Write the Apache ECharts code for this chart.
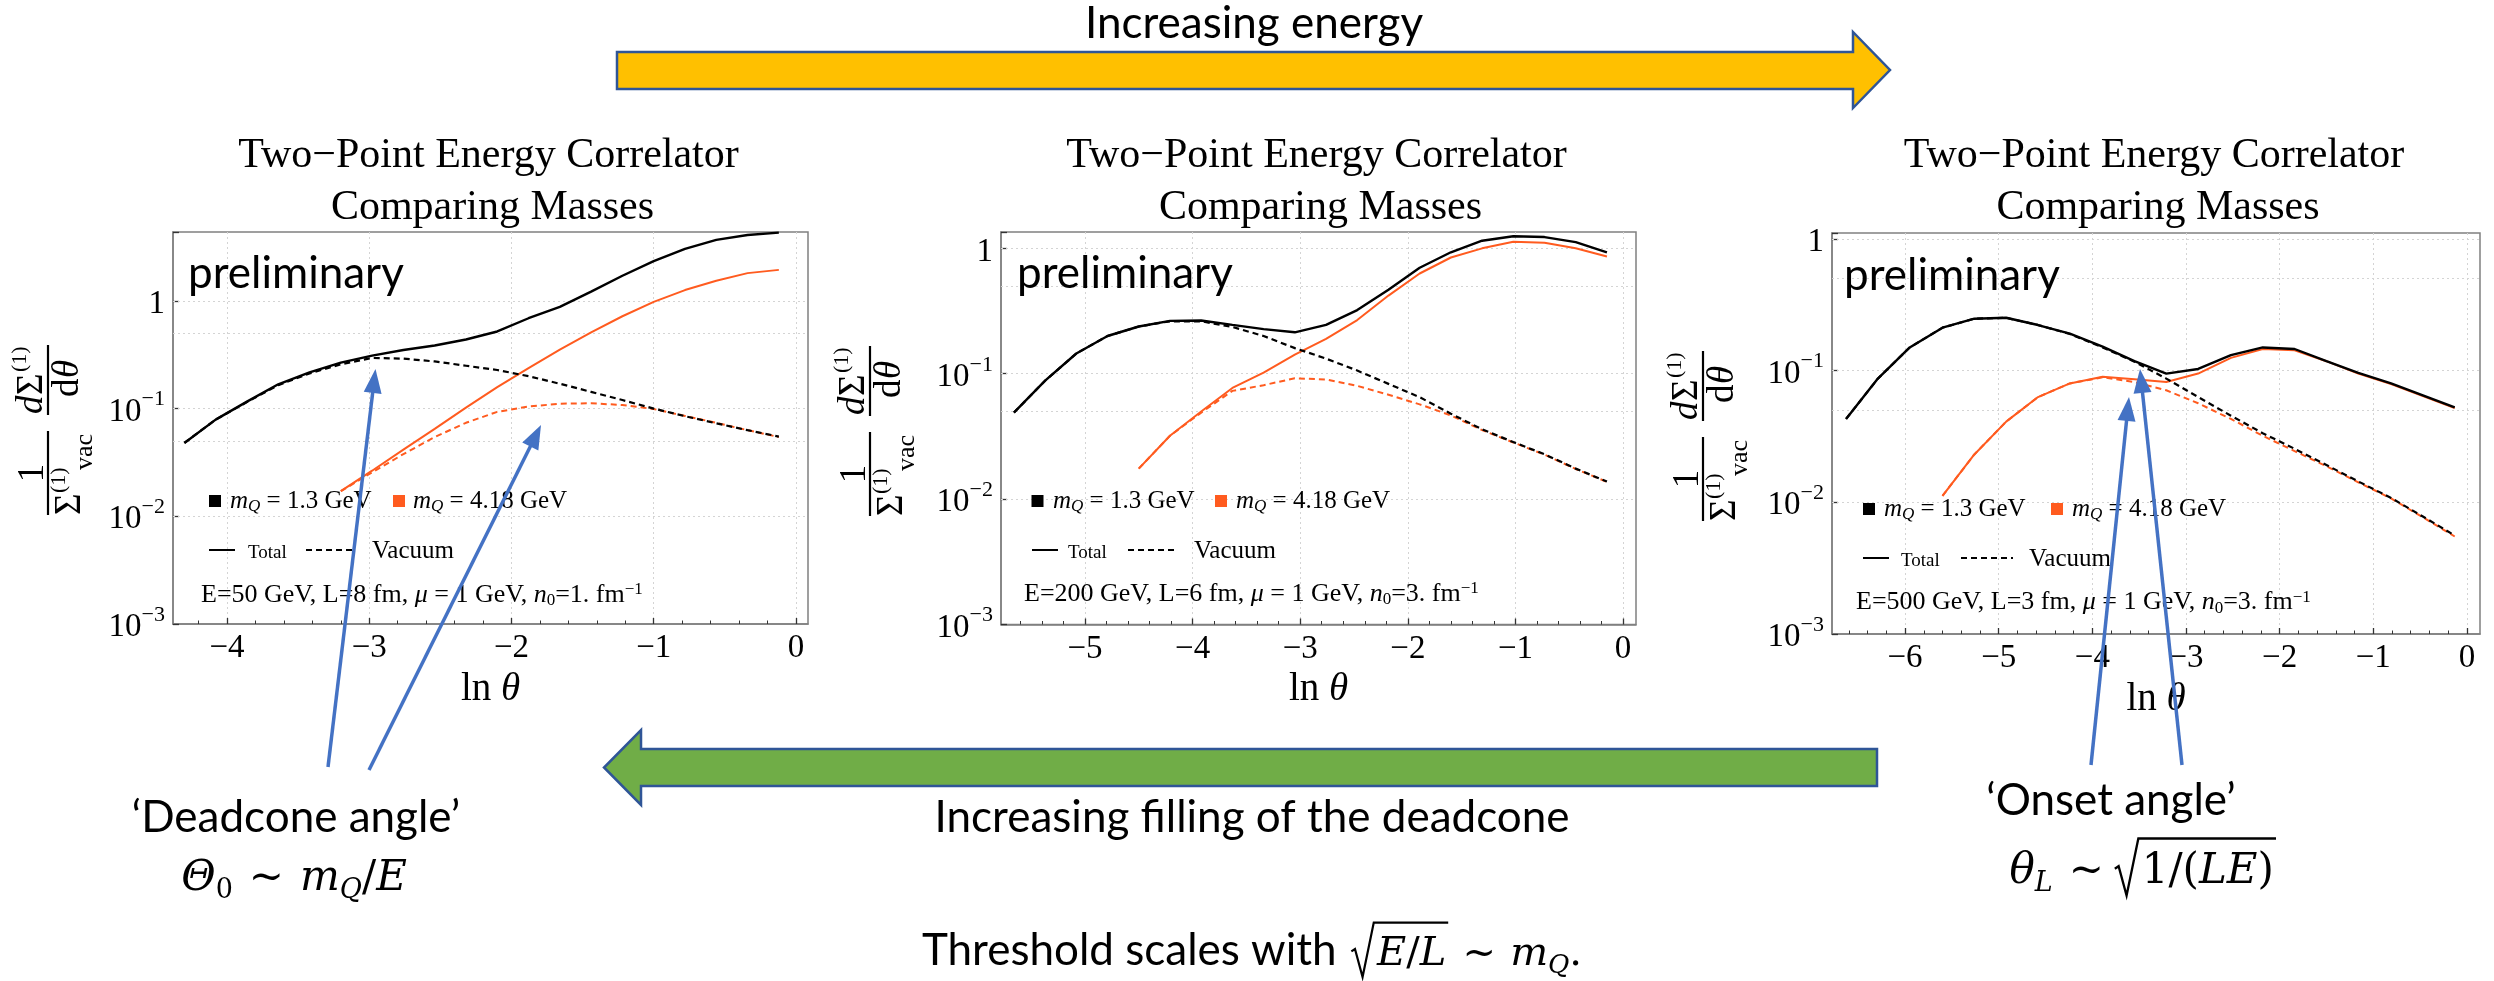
<!DOCTYPE html>
<html>
<head>
<meta charset="utf-8">
<script src="https://cdn.jsdelivr.net/npm/echarts@6/dist/echarts.min.js"></script>
<style>
  html, body { margin: 0; padding: 0; background: #fff; }
  #chart { width: 2494px; height: 981px; }
</style>
</head>
<body>
<div id="chart"></div>
<script>
// ---------- data: ln(theta) samples and normalised EEC values ----------
// Panel 1: E = 50 GeV, L = 8 fm
const lnTheta1 = [-4.30, -4.08, -3.86, -3.64, -3.42, -3.20, -2.98, -2.76, -2.54, -2.32, -2.10, -1.88, -1.66, -1.44, -1.22, -1.00, -0.78, -0.56, -0.34, -0.12];
const charmTotal1 = [0.048, 0.079, 0.116, 0.168, 0.217, 0.267, 0.310, 0.350, 0.385, 0.438, 0.520, 0.690, 0.880, 1.22, 1.71, 2.34, 3.04, 3.68, 4.09, 4.30];
const charmVac1 = [0.048, 0.079, 0.115, 0.165, 0.212, 0.258, 0.295, 0.291, 0.274, 0.250, 0.228, 0.200, 0.170, 0.143, 0.120, 0.100, 0.085, 0.073, 0.063, 0.055];
const bottomTotal1 = [null, null, null, null, null, 0.0171, 0.0265, 0.0416, 0.0648, 0.102, 0.158, 0.238, 0.352, 0.51, 0.72, 0.98, 1.26, 1.54, 1.81, 1.94];
const bottomVac1 = [null, null, null, null, null, 0.0171, 0.0256, 0.0378, 0.0544, 0.0738, 0.0933, 0.1045, 0.111, 0.112, 0.108, 0.099, 0.0855, 0.0738, 0.063, 0.0544];

// Panel 2: E = 200 GeV, L = 6 fm
const lnTheta2 = [-5.66, -5.37, -5.08, -4.79, -4.50, -4.21, -3.92, -3.63, -3.34, -3.05, -2.76, -2.47, -2.18, -1.89, -1.60, -1.31, -1.02, -0.73, -0.44, -0.15];
const charmTotal2 = [0.049, 0.088, 0.145, 0.200, 0.238, 0.264, 0.266, 0.245, 0.227, 0.214, 0.245, 0.322, 0.468, 0.700, 0.930, 1.15, 1.25, 1.23, 1.12, 0.93];
const charmVac2 = [0.049, 0.088, 0.145, 0.200, 0.238, 0.262, 0.262, 0.236, 0.200, 0.160, 0.132, 0.106, 0.083, 0.065, 0.048, 0.036, 0.0285, 0.0228, 0.0175, 0.0138];
const bottomTotal2 = [null, null, null, null, 0.0175, 0.032, 0.050, 0.077, 0.102, 0.142, 0.190, 0.268, 0.420, 0.630, 0.845, 1.00, 1.13, 1.11, 1.00, 0.86];
const bottomVac2 = [null, null, null, null, 0.0175, 0.032, 0.049, 0.073, 0.081, 0.092, 0.090, 0.080, 0.068, 0.057, 0.0465, 0.0355, 0.0283, 0.0226, 0.0174, 0.0137];

// Panel 3: E = 500 GeV, L = 3 fm
const lnTheta3 = [-6.63, -6.29, -5.95, -5.60, -5.26, -4.92, -4.58, -4.24, -3.89, -3.55, -3.21, -2.87, -2.52, -2.18, -1.84, -1.50, -1.16, -0.81, -0.47, -0.13];
const charmTotal3 = [0.043, 0.087, 0.150, 0.212, 0.248, 0.252, 0.222, 0.191, 0.152, 0.118, 0.095, 0.103, 0.131, 0.150, 0.146, 0.118, 0.096, 0.080, 0.065, 0.0525];
const charmVac3 = [0.043, 0.087, 0.150, 0.212, 0.248, 0.252, 0.222, 0.190, 0.150, 0.117, 0.087, 0.063, 0.0455, 0.0335, 0.0255, 0.0192, 0.0144, 0.0108, 0.0078, 0.0056];
const bottomTotal3 = [null, null, null, 0.0112, 0.0231, 0.041, 0.063, 0.080, 0.090, 0.086, 0.082, 0.095, 0.125, 0.146, 0.143, 0.118, 0.095, 0.079, 0.064, 0.052];
const bottomVac3 = [null, null, null, 0.0112, 0.0231, 0.041, 0.063, 0.080, 0.089, 0.082, 0.071, 0.0565, 0.043, 0.032, 0.0245, 0.0188, 0.0142, 0.0107, 0.0077, 0.0055];

// tick labels / grid values
const xTicks1 = [-4, -3, -2, -1, 0];
const xTicks2 = [-5, -4, -3, -2, -1, 0];
const xTicks3 = [-6, -5, -4, -3, -2, -1, 0];
const yGridValues = [1, 0.5, 0.1, 0.05, 0.01, 0.005];

const paramText1 = 'E=50 GeV, L=8 fm, {i|μ} = 1 GeV, {i|n}{sb|0}=1. fm{sp|−1}';
const paramText2 = 'E=200 GeV, L=6 fm, {i|μ} = 1 GeV, {i|n}{sb|0}=3. fm{sp|−1}';
const paramText3 = 'E=500 GeV, L=3 fm, {i|μ} = 1 GeV, {i|n}{sb|0}=3. fm{sp|−1}';

// ---------- styling ----------
const SERIF = '"Liberation Serif"';
const SANS = 'Lato';
const MATH = '"DejaVu Serif"';
const ORANGE = '#ff5b1f';
const FRAME = '#808080';
const BLUE = '#4472C4';
const GRIDLINE = { color: '#d4d4d4', width: 1, type: [2, 3] };

// ---------- panel layout ----------
const panels = [
  {
    grid: { left: 173, top: 232, width: 635, height: 392 }, xMin: -4.38, xMax: 0.085, yMax: 4.36,
    lnTheta: lnTheta1, charmTotal: charmTotal1, charmVac: charmVac1, bottomTotal: bottomTotal1, bottomVac: bottomVac1,
    ticks: xTicks1, params: paramText1, yTitle: [48, 429], prelim: [188, 288],
    leg: { r1: 501, sq1: 215, t1: 230, sq2: 399, t2: 413, r2: 550, l1: [209, 235], tot: 248, d: [306, 356], vac: 372, r3: 595, e: 201 }
  },
  {
    grid: { left: 1001, top: 232, width: 635, height: 392.5 }, xMin: -5.78, xMax: 0.12, yMax: 1.35,
    lnTheta: lnTheta2, charmTotal: charmTotal2, charmVac: charmVac2, bottomTotal: bottomTotal2, bottomVac: bottomVac2,
    ticks: xTicks2, params: paramText2, yTitle: [870, 430], prelim: [1017, 288],
    leg: { r1: 501, sq1: 1037.5, t1: 1053, sq2: 1221, t2: 1236, r2: 550, l1: [1032, 1058], tot: 1068, d: [1128, 1176], vac: 1194, r3: 594.5, e: 1024 }
  },
  {
    grid: { left: 1832, top: 233, width: 648, height: 401 }, xMin: -6.78, xMax: 0.14, yMax: 1.11,
    lnTheta: lnTheta3, charmTotal: charmTotal3, charmVac: charmVac3, bottomTotal: bottomTotal3, bottomVac: bottomVac3,
    ticks: xTicks3, params: paramText3, yTitle: [1703, 435], prelim: [1844, 290],
    leg: { r1: 509, sq1: 1869, t1: 1884, sq2: 2057, t2: 2072, r2: 558, l1: [1863, 1889], tot: 1901, d: [1961, 2013], vac: 2029, r3: 602.6, e: 1856 }
  }
];

// ---------- text helpers ----------
const mctx = document.createElement('canvas').getContext('2d');
function fontOf(size, fam, it) { return (it ? 'italic ' : '') + size + 'px ' + fam; }
function textW(t, size, fam, it) { mctx.font = fontOf(size, fam, it); return mctx.measureText(t).width; }
const kCache = {};
// distance from the canvas "middle" line to the alphabetic baseline, per unit font size
function midK(fam) {
  if (kCache[fam] == null) {
    mctx.font = fontOf(100, fam, false);
    mctx.textBaseline = 'middle';
    const m = mctx.measureText('H');
    kCache[fam] = (m.actualBoundingBoxDescent || 32) / 100;
    mctx.textBaseline = 'alphabetic';
  }
  return kCache[fam];
}
function T(x, base, text, size, fam, opt) {
  opt = opt || {};
  const align = opt.align || 'left';
  return {
    type: 'text', x: x, y: base - midK(fam) * size, z: opt.z || 10,
    style: {
      text: text, font: fontOf(size, fam, opt.it), fill: opt.fill || '#000',
      align: align, textAlign: align, verticalAlign: 'middle', textVerticalAlign: 'middle'
    }
  };
}
function layoutPieces(pieces) {
  let x = 0; const items = [];
  pieces.forEach(p => {
    x += p.pre || 0;
    if (p.rad) {
      const inner = layoutPieces(p.rad);
      const sign = 0.66 * p.s;
      items.push({ rad: true, x0: x + sign, w: inner.w, s: p.s });
      inner.items.forEach(it => {
        const c = Object.assign({}, it);
        if (c.rad) c.x0 += x + sign; else c.x += x + sign;
        items.push(c);
      });
      x += sign + inner.w + 0.06 * p.s;
    } else {
      items.push(Object.assign({}, p, { x: x }));
      x += textW(p.t, p.s, p.f, p.it);
    }
    x += p.post || 0;
  });
  return { items: items, w: x };
}
function typeset(cx, base, pieces) {
  const L = layoutPieces(pieces);
  const x0 = cx - L.w / 2;
  const els = [];
  L.items.forEach(it => {
    if (it.rad) {
      const s = it.s, a = x0 + it.x0, b = base;
      els.push({
        type: 'polyline', z: 10,
        shape: { points: [[a - 0.64 * s, b - 0.34 * s], [a - 0.55 * s, b - 0.40 * s], [a - 0.36 * s, b + 0.30 * s], [a - 0.08 * s, b - 1.06 * s], [a + it.w + 0.05 * s, b - 1.06 * s]] },
        style: { stroke: '#000', lineWidth: 0.055 * s, fill: null, lineJoin: 'miter' }
      });
    } else {
      els.push(T(x0 + it.x, base + (it.dy || 0), it.t, it.s, it.f, { it: it.it }));
    }
  });
  return els;
}
function arrow(x1, y1, x2, y2) {
  const dx = x2 - x1, dy = y2 - y1, L = Math.hypot(dx, dy), ux = dx / L, uy = dy / L;
  const hl = 24, hw = 9;
  const bx = x2 - ux * hl, by = y2 - uy * hl;
  return [
    { type: 'line', z: 100, shape: { x1: x1, y1: y1, x2: bx + ux * 2, y2: by + uy * 2 }, style: { stroke: BLUE, lineWidth: 3.5 } },
    { type: 'polygon', z: 100, shape: { points: [[x2, y2], [bx - uy * hw, by + ux * hw], [bx + uy * hw, by - ux * hw]] }, style: { fill: BLUE } }
  ];
}

// rotated y-axis title: 1/Σ(1)vac · dΣ(1)/dθ
function yTitle(cx, cy) {
  const S = 37;
  return {
    type: 'group', x: cx, y: cy, rotation: Math.PI / 2, z: 10,
    children: [
      T(-44, -5, '1', S, SERIF, { align: 'center' }),
      { type: 'line', shape: { x1: -86, y1: 0, x2: -2, y2: 0 }, style: { stroke: '#000', lineWidth: 2.2 } },
      T(-86, 32, 'Σ', S, SERIF),
      T(-64, 17, '(1)', 22, SERIF),
      T(-41, 44, 'vac', 26, SERIF),
      { type: 'line', shape: { x1: 14, y1: 0, x2: 84, y2: 0 }, style: { stroke: '#000', lineWidth: 2.2 } },
      T(15, -6, 'd', S, SERIF, { it: true }),
      T(34, -6, 'Σ', S, SERIF),
      T(57, -22, '(1)', 22, SERIF),
      T(32, 30, 'd', S, SERIF),
      T(51, 30, 'θ', S, SERIF, { it: true })
    ]
  };
}

function legendEls(p) {
  const g = p.leg, els = [];
  const fs = 25;
  const rich = {
    i: { fontFamily: 'Liberation Serif', fontSize: fs, fontStyle: 'italic', lineHeight: 28 },
    sb: { fontFamily: 'Liberation Serif', fontSize: 17, lineHeight: 12, verticalAlign: 'bottom' },
    sbi: { fontFamily: 'Liberation Serif', fontSize: 17, fontStyle: 'italic', lineHeight: 12, verticalAlign: 'bottom' },
    sp: { fontFamily: 'Liberation Serif', fontSize: 17, lineHeight: 12, verticalAlign: 'top' }
  };
  const rt = (x, cy, text, size) => ({
    type: 'text', x: x, y: cy, z: 10,
    style: {
      text: text, font: fontOf(size, SERIF, false), fill: '#000', lineHeight: 28, align: 'left',
      verticalAlign: 'middle', textVerticalAlign: 'middle',
      rich: Object.assign({}, rich, { i: Object.assign({}, rich.i, { fontSize: size }) })
    }
  });
  els.push({ type: 'rect', z: 10, shape: { x: g.sq1 - 6, y: g.r1 - 6, width: 12, height: 12 }, style: { fill: '#000' } });
  els.push(rt(g.t1, g.r1, '{i|m}{sbi|Q} = 1.3 GeV', fs));
  els.push({ type: 'rect', z: 10, shape: { x: g.sq2 - 6, y: g.r1 - 6, width: 12, height: 12 }, style: { fill: ORANGE } });
  els.push(rt(g.t2, g.r1, '{i|m}{sbi|Q} = 4.18 GeV', fs));
  els.push({ type: 'line', z: 10, shape: { x1: g.l1[0], y1: g.r2, x2: g.l1[1], y2: g.r2 }, style: { stroke: '#000', lineWidth: 2 } });
  els.push(T(g.tot, g.r2 + 0.33 * 19 + 2, 'Total', 19, SERIF));
  els.push({ type: 'line', z: 10, shape: { x1: g.d[0], y1: g.r2, x2: g.d[1], y2: g.r2 }, style: { stroke: '#000', lineWidth: 2, lineDash: [6, 4] } });
  els.push(T(g.vac, g.r2 + 0.33 * 25, 'Vacuum', 25, SERIF));
  els.push(rt(g.e, g.r3, p.params, 26));
  return els;
}

// ---------- series ----------
function pts(xs, ys) {
  const out = [];
  xs.forEach((x, i) => { if (ys[i] != null) out.push([x, ys[i]]); });
  return out;
}
const series = [];
panels.forEach((p, i) => {
  // horizontal dotted grid at 1, 0.5, 0.1, ...
  series.push({
    type: 'line', name: 'grid' + i, xAxisIndex: i, yAxisIndex: i, data: [], silent: true, z: 1,
    markLine: {
      silent: true, z: 1, animation: false, symbol: ['none', 'none'], label: { show: false },
      lineStyle: GRIDLINE,
      data: yGridValues.map(v => ({ yAxis: v }))
    }
  });
  const mk = (data, color, width, dashed, z) => ({
    type: 'line', xAxisIndex: i, yAxisIndex: i, data: data, showSymbol: false, symbol: 'none', z: z,
    lineStyle: { color: color, width: width, type: dashed ? [6, 4] : 'solid' }, silent: true
  });
  series.push(mk(pts(p.lnTheta, p.bottomVac), ORANGE, 2, true, 3));
  series.push(mk(pts(p.lnTheta, p.bottomTotal), ORANGE, 2, false, 4));
  series.push(mk(pts(p.lnTheta, p.charmVac), '#000', 2.2, true, 5));
  series.push(mk(pts(p.lnTheta, p.charmTotal), '#000', 2.4, false, 6));
});

// ---------- axes ----------
const minus = v => (v < 0 ? '−' + Math.abs(v) : String(v));
function minorTicks(min, max) {
  const out = [];
  for (let k = Math.ceil(min / 0.2 - 1e-9); k * 0.2 <= max + 1e-9; k++) {
    const v = Math.round(k * 0.2 * 10) / 10;
    if (Math.abs(v - Math.round(v)) > 1e-6) out.push(v);
  }
  return out;
}
const xAxes = [], yAxes = [];
panels.forEach((p, i) => {
  xAxes.push({
    type: 'value', gridIndex: i, min: p.xMin, max: p.xMax, position: 'bottom',
    axisLine: { show: true, onZero: false, lineStyle: { color: FRAME, width: 1.5 } },
    axisTick: { show: true, inside: true, length: 6, customValues: p.ticks, lineStyle: { color: '#333', width: 1.3 } },
    axisLabel: { show: true, customValues: p.ticks, formatter: minus, fontFamily: 'Liberation Serif', fontSize: 33, color: '#000', margin: 8 },
    splitLine: { show: true, lineStyle: GRIDLINE },
    name: '{r|ln }{i|θ}', nameLocation: 'middle', nameGap: 46,
    nameTextStyle: {
      rich: {
        r: { fontFamily: 'Liberation Serif', fontSize: 39, color: '#000' },
        i: { fontFamily: 'Liberation Serif', fontSize: 39, fontStyle: 'italic', color: '#000' }
      }
    }
  });
});
panels.forEach((p, i) => {
  xAxes.push({
    type: 'value', gridIndex: i, min: p.xMin, max: p.xMax, position: 'bottom',
    axisLine: { show: false, onZero: false },
    axisTick: { show: true, inside: true, length: 3.5, customValues: minorTicks(p.xMin, p.xMax), lineStyle: { color: '#333', width: 1 } },
    axisLabel: { show: false }, splitLine: { show: false }
  });
  yAxes.push({
    type: 'log', logBase: 10, gridIndex: i, min: 0.001, max: p.yMax, position: 'left',
    axisLine: { show: true, onZero: false, lineStyle: { color: FRAME, width: 1.5 } },
    axisTick: { show: true, inside: true, length: 6, lineStyle: { color: '#333', width: 1.3 } },
    axisLabel: {
      margin: 8,
      formatter: v => {
        const e = Math.log10(v), r = Math.round(e);
        if (Math.abs(e - r) > 1e-6) return '';
        if (r === 0) return '{b|1}';
        return '{b|10}{s|−' + (-r) + '}';
      },
      rich: {
        b: { fontFamily: 'Liberation Serif', fontSize: 33, color: '#000', lineHeight: 40, verticalAlign: 'bottom' },
        s: { fontFamily: 'Liberation Serif', fontSize: 22, color: '#000', lineHeight: 22, verticalAlign: 'top' }
      }
    },
    splitLine: { show: false }, minorTick: { show: false }
  });
});

// ---------- annotations ----------
const gEls = [];
// "Increasing energy" arrow
gEls.push({
  type: 'polygon', z: 5,
  shape: { points: [[617, 52], [1853, 52], [1853, 32], [1890, 70], [1853, 108], [1853, 89], [617, 89]] },
  style: { fill: '#FFC000', stroke: '#2F5597', lineWidth: 2.5 }
});
gEls.push(T(1254, 38, 'Increasing energy', 44, SANS, { align: 'center' }));
// "Increasing filling of the deadcone" arrow
gEls.push({
  type: 'polygon', z: 5,
  shape: { points: [[1877, 749], [641, 749], [641, 730], [604, 767.5], [641, 805], [641, 786], [1877, 786]] },
  style: { fill: '#70AD47', stroke: '#2F5597', lineWidth: 2.5 }
});
gEls.push(T(1252, 832, 'Increasing filling of the deadcone', 44, SANS, { align: 'center' }));

panels.forEach(p => {
  const cx = p.grid.left + p.grid.width / 2;
  gEls.push(T(cx - 2, 167, 'Two−Point Energy Correlator', 42, SERIF, { align: 'center' }));
  gEls.push(T(cx + 2, 219, 'Comparing Masses', 42, SERIF, { align: 'center' }));
  gEls.push(T(p.prelim[0], p.prelim[1], 'preliminary', 44, SANS));
  gEls.push(yTitle(p.yTitle[0], p.yTitle[1]));
  legendEls(p).forEach(e => gEls.push(e));
});

// dead-cone and onset-angle pointers
arrow(328, 767, 375.5, 369).forEach(e => gEls.push(e));
arrow(369, 770, 541, 425).forEach(e => gEls.push(e));
arrow(2091, 765, 2129, 397).forEach(e => gEls.push(e));
arrow(2182, 765, 2140, 369).forEach(e => gEls.push(e));

gEls.push(T(296, 832, '‘Deadcone angle’', 44, SANS, { align: 'center' }));
typeset(294, 890, [
  { t: 'Θ', s: 42, f: MATH, it: true },
  { t: '0', s: 27, f: MATH, dy: 8, post: 16 },
  { t: '~', s: 42, f: MATH, post: 16 },
  { t: 'm', s: 42, f: MATH, it: true },
  { t: 'Q', s: 27, f: MATH, it: true, dy: 8 },
  { t: '/', s: 42, f: MATH },
  { t: 'E', s: 42, f: MATH, it: true }
]).forEach(e => gEls.push(e));

gEls.push(T(2111, 815, '‘Onset angle’', 44, SANS, { align: 'center' }));
typeset(2143, 883, [
  { t: 'θ', s: 42, f: MATH, it: true },
  { t: 'L', s: 27, f: MATH, it: true, dy: 8, post: 16 },
  { t: '~', s: 42, f: MATH, post: 10 },
  { s: 42, rad: [
    { t: '1', s: 42, f: MATH },
    { t: '/', s: 42, f: MATH },
    { t: '(', s: 42, f: MATH },
    { t: 'L', s: 42, f: MATH, it: true },
    { t: 'E', s: 42, f: MATH, it: true },
    { t: ')', s: 42, f: MATH }
  ] }
]).forEach(e => gEls.push(e));

typeset(1252, 965, [
  { t: 'Threshold scales with', s: 44, f: SANS, post: 14 },
  { s: 40, rad: [
    { t: 'E', s: 40, f: MATH, it: true },
    { t: '/', s: 40, f: MATH },
    { t: 'L', s: 40, f: MATH, it: true }
  ], post: 14 },
  { t: '~', s: 40, f: MATH, post: 14 },
  { t: 'm', s: 40, f: MATH, it: true },
  { t: 'Q', s: 26, f: MATH, it: true, dy: 8 },
  { t: '.', s: 40, f: MATH }
]).forEach(e => gEls.push(e));

// ---------- chart ----------
const chart = echarts.init(document.getElementById('chart'), null, { renderer: 'canvas' });
chart.setOption({
  animation: false,
  backgroundColor: '#ffffff',
  grid: panels.map(p => Object.assign({ show: true, borderColor: FRAME, borderWidth: 1.5, backgroundColor: 'transparent', containLabel: false }, p.grid)),
  xAxis: xAxes,
  yAxis: yAxes,
  series: series,
  graphic: { elements: gEls }
});
</script>
</body>
</html>
